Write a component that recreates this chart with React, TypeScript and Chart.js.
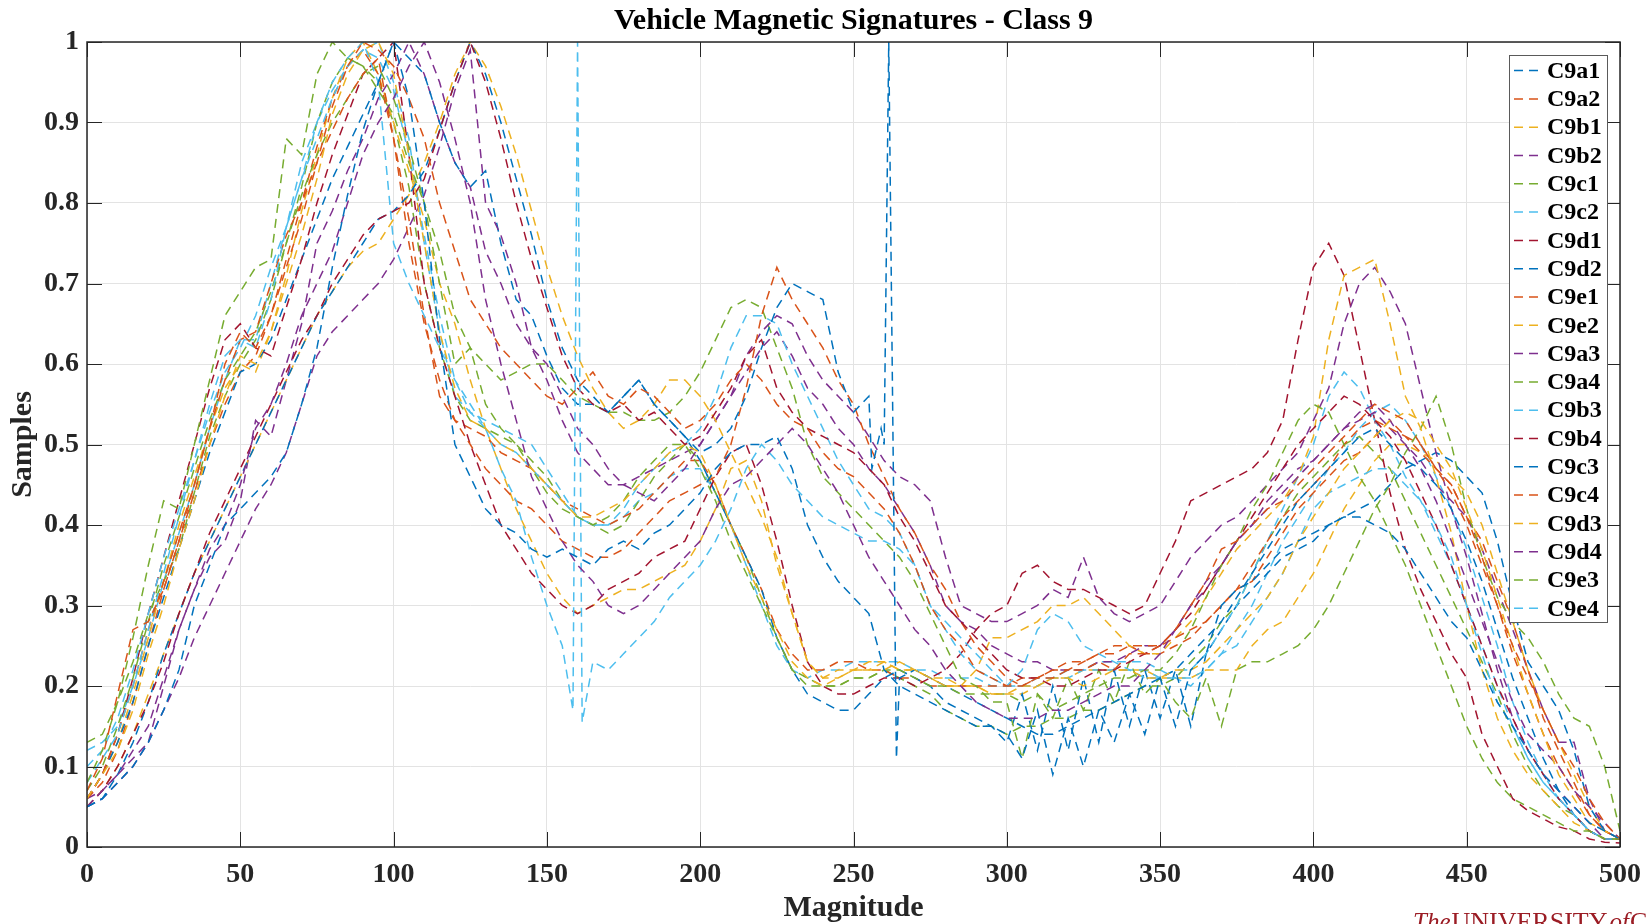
import { useEffect, useRef } from 'react';
import { Chart, registerables } from 'chart.js';

Chart.register(...registerables);

const magnitude = [
  0, 5, 10, 15, 20, 25, 30, 35, 40, 45,
  50, 55, 60, 65, 70, 75, 80, 85, 90, 95,
  100, 105, 110, 115, 120, 125, 130, 135, 140, 145,
  150, 155, 160, 165, 170, 175, 180, 185, 190, 195,
  200, 205, 210, 215, 220, 225, 230, 235, 240, 245,
  250, 255, 260, 265, 270, 275, 280, 285, 290, 295,
  300, 305, 310, 315, 320, 325, 330, 335, 340, 345,
  350, 355, 360, 365, 370, 375, 380, 385, 390, 395,
  400, 405, 410, 415, 420, 425, 430, 435, 440, 445,
  450, 455, 460, 465, 470, 475, 480, 485, 490, 495,
  500,
];

const seriesNames = [
  'C9a1', 'C9a2', 'C9b1', 'C9b2', 'C9c1', 'C9c2', 'C9d1', 'C9d2', 'C9e1', 'C9e2',
  'C9a3', 'C9a4', 'C9b3', 'C9b4', 'C9c3', 'C9c4', 'C9d3', 'C9d4', 'C9e3', 'C9e4',
];

const seriesColors = [
  '#0072BD', '#D95319', '#EDB120', '#7E2F8E', '#77AC30', '#4DBEEE', '#A2142F',
  '#0072BD', '#D95319', '#EDB120', '#7E2F8E', '#77AC30', '#4DBEEE', '#A2142F',
  '#0072BD', '#D95319', '#EDB120', '#7E2F8E', '#77AC30', '#4DBEEE',
];

const C9a1 = [
  0.05, 0.06, 0.08, 0.10, 0.13, 0.17, 0.22, 0.30, 0.35, 0.40,
  0.42, 0.44, 0.46, 0.49, 0.55, 0.62, 0.72, 0.81, 0.89, 0.95,
  1.00, 0.93, 0.80, 0.63, 0.50, 0.46, 0.42, 0.40, 0.39, 0.37,
  0.36, 0.37, 0.36, 0.35, 0.37, 0.38, 0.37, 0.39, 0.40, 0.42,
  0.44, 0.47, 0.49, 0.50, 0.50, 0.51, 0.47, 0.40, 0.36, 0.33,
  0.31, 0.29, 0.22, 0.20, 0.19, 0.18, 0.17, 0.16, 0.15, 0.15,
  0.14, 0.11, 0.17, 0.09, 0.16, 0.10, 0.17, 0.13, 0.19, 0.14,
  0.21, 0.15, 0.22, 0.24, 0.30, 0.32, 0.33, 0.35, 0.37, 0.38,
  0.39, 0.40, 0.41, 0.41, 0.40, 0.39, 0.37, 0.34, 0.31, 0.28,
  0.26, 0.22, 0.18, 0.15, 0.12, 0.09, 0.07, 0.05, 0.03, 0.02,
  0.01,
];
const C9a2 = [
  0.07, 0.11, 0.19, 0.27, 0.28, 0.32, 0.38, 0.45, 0.52, 0.60,
  0.64, 0.62, 0.66, 0.72, 0.78, 0.85, 0.92, 0.97, 1.00, 0.99,
  0.97, 0.93, 0.88, 0.80, 0.74, 0.68, 0.65, 0.62, 0.60, 0.58,
  0.56, 0.55, 0.57, 0.59, 0.56, 0.55, 0.57, 0.56, 0.54, 0.52,
  0.53, 0.55, 0.58, 0.60, 0.58, 0.55, 0.53, 0.52, 0.49, 0.47,
  0.46, 0.44, 0.42, 0.39, 0.35, 0.30, 0.27, 0.25, 0.22, 0.21,
  0.20, 0.20, 0.21, 0.21, 0.22, 0.22, 0.23, 0.22, 0.24, 0.24,
  0.25, 0.27, 0.30, 0.33, 0.37, 0.38, 0.40, 0.42, 0.43, 0.45,
  0.47, 0.49, 0.51, 0.53, 0.55, 0.54, 0.53, 0.50, 0.47, 0.44,
  0.40, 0.35, 0.30, 0.25, 0.21, 0.17, 0.13, 0.10, 0.06, 0.03,
  0.01,
];
const C9b1 = [
  0.06, 0.09, 0.12, 0.17, 0.24, 0.30, 0.37, 0.43, 0.50, 0.56,
  0.61, 0.60, 0.64, 0.70, 0.76, 0.83, 0.91, 0.96, 0.99, 1.00,
  0.96, 0.86, 0.75, 0.64, 0.57, 0.53, 0.52, 0.50, 0.49, 0.47,
  0.45, 0.43, 0.41, 0.41, 0.42, 0.43, 0.45, 0.47, 0.49, 0.50,
  0.49, 0.45, 0.40, 0.35, 0.31, 0.27, 0.23, 0.21, 0.20, 0.21,
  0.22, 0.22, 0.22, 0.23, 0.22, 0.21, 0.20, 0.20, 0.20, 0.19,
  0.19, 0.20, 0.20, 0.21, 0.21, 0.20, 0.21, 0.22, 0.22, 0.21,
  0.21, 0.22, 0.22, 0.23, 0.25, 0.27, 0.29, 0.31, 0.34, 0.38,
  0.41, 0.44, 0.47, 0.49, 0.51, 0.53, 0.54, 0.53, 0.50, 0.47,
  0.42, 0.37, 0.31, 0.25, 0.19, 0.14, 0.09, 0.06, 0.03, 0.02,
  0.01,
];
const C9b2 = [
  0.05, 0.07, 0.09, 0.11, 0.13, 0.20, 0.27, 0.32, 0.37, 0.40,
  0.45, 0.52, 0.55, 0.60, 0.66, 0.70, 0.74, 0.80, 0.86, 0.90,
  0.93, 0.97, 1.00, 0.95, 0.88, 0.80, 0.68, 0.60, 0.53, 0.46,
  0.42, 0.38, 0.35, 0.33, 0.30, 0.29, 0.30, 0.32, 0.34, 0.36,
  0.38, 0.42, 0.45, 0.46, 0.48, 0.50, 0.52, 0.50, 0.47, 0.44,
  0.40, 0.36, 0.33, 0.30, 0.27, 0.25, 0.22, 0.20, 0.18, 0.17,
  0.16, 0.16, 0.16, 0.17, 0.17, 0.18, 0.19, 0.20, 0.20, 0.22,
  0.24, 0.27, 0.30, 0.33, 0.35, 0.38, 0.40, 0.42, 0.44, 0.46,
  0.48, 0.50, 0.52, 0.54, 0.55, 0.53, 0.50, 0.47, 0.43, 0.38,
  0.33, 0.28, 0.23, 0.18, 0.14, 0.12, 0.10, 0.07, 0.05, 0.03,
  0.01,
];
const C9c1 = [
  0.08, 0.12, 0.18, 0.26, 0.35, 0.43, 0.42, 0.50, 0.58, 0.66,
  0.69, 0.72, 0.73, 0.88, 0.86, 0.96, 1.00, 0.98, 0.97, 0.94,
  0.91, 0.85, 0.80, 0.70, 0.60, 0.62, 0.55, 0.52, 0.50, 0.47,
  0.44, 0.42, 0.41, 0.40, 0.41, 0.43, 0.46, 0.48, 0.50, 0.50,
  0.47, 0.43, 0.38, 0.34, 0.30, 0.26, 0.22, 0.21, 0.20, 0.20,
  0.21, 0.21, 0.22, 0.22, 0.21, 0.20, 0.20, 0.19, 0.19, 0.19,
  0.19, 0.18, 0.19, 0.17, 0.18, 0.19, 0.20, 0.21, 0.21, 0.22,
  0.22, 0.24, 0.27, 0.31, 0.35, 0.38, 0.42, 0.45, 0.49, 0.53,
  0.55, 0.54, 0.50, 0.46, 0.43, 0.39, 0.35, 0.30, 0.25, 0.20,
  0.15, 0.11, 0.08, 0.06, 0.05, 0.04, 0.03, 0.02, 0.02, 0.01,
  0.01,
];
const C9c2 = [
  0.08, 0.11, 0.14, 0.20, 0.27, 0.34, 0.41, 0.48, 0.55, 0.61,
  0.63, 0.62, 0.68, 0.77, 0.83, 0.90, 0.95, 0.98, 1.00, 0.95,
  0.75, 0.70, 0.66, 0.62, 0.58, 0.55, 0.52, 0.47, 0.43, 0.36,
  0.30, 0.25, 1.00, 0.23, 0.22, 0.24, 0.26, 0.28, 0.31, 0.33,
  0.35, 0.38, 0.42, 0.47, 0.50, 0.48, 0.45, 0.43, 0.41, 0.40,
  0.39, 0.38, 0.38, 0.37, 0.35, 0.30, 0.28, 0.26, 0.24, 0.22,
  0.20, 0.22, 0.27, 0.29, 0.28, 0.25, 0.24, 0.23, 0.22, 0.22,
  0.21, 0.21, 0.21, 0.22, 0.24, 0.25, 0.28, 0.31, 0.34, 0.38,
  0.42, 0.44, 0.45, 0.46, 0.47, 0.47, 0.45, 0.43, 0.40, 0.36,
  0.30, 0.24, 0.18, 0.15, 0.11, 0.08, 0.06, 0.04, 0.02, 0.01,
  0.01,
];
const C9d1 = [
  0.05, 0.07, 0.10, 0.14, 0.18, 0.23, 0.29, 0.34, 0.39, 0.43,
  0.47, 0.51, 0.55, 0.59, 0.63, 0.66, 0.70, 0.73, 0.76, 0.78,
  0.79, 0.80, 0.83, 0.89, 0.95, 1.00, 0.95, 0.88, 0.80, 0.73,
  0.67, 0.61, 0.57, 0.55, 0.54, 0.55, 0.53, 0.54, 0.52, 0.50,
  0.51, 0.54, 0.57, 0.61, 0.63, 0.57, 0.54, 0.52, 0.51, 0.50,
  0.49, 0.47, 0.45, 0.41, 0.38, 0.34, 0.30, 0.28, 0.26, 0.24,
  0.22, 0.21, 0.21, 0.20, 0.20, 0.21, 0.22, 0.22, 0.23, 0.24,
  0.25, 0.27, 0.29, 0.32, 0.35, 0.38, 0.41, 0.44, 0.47, 0.50,
  0.52, 0.54, 0.56, 0.55, 0.53, 0.51, 0.48, 0.44, 0.40, 0.35,
  0.30, 0.25, 0.20, 0.16, 0.12, 0.09, 0.06, 0.04, 0.02, 0.01,
  0.01,
];
const C9d2 = [
  0.05, 0.06, 0.09, 0.13, 0.18, 0.24, 0.29, 0.34, 0.38, 0.42,
  0.46, 0.50, 0.54, 0.58, 0.62, 0.66, 0.69, 0.72, 0.75, 0.78,
  0.79, 0.81, 0.84, 0.89, 0.95, 1.00, 0.96, 0.90, 0.83, 0.76,
  0.68, 0.62, 0.58, 0.56, 0.54, 0.56, 0.58, 0.55, 0.53, 0.51,
  0.49, 0.50, 0.52, 0.56, 0.62, 0.67, 0.70, 0.69, 0.68, 0.59,
  0.54, 0.56, 0.50, 0.21, 0.22, 0.21, 0.20, 0.19, 0.18, 0.17,
  0.16, 0.15, 0.14, 0.14, 0.15, 0.16, 0.17, 0.18, 0.19, 0.20,
  0.21, 0.22, 0.24, 0.26, 0.28, 0.31, 0.34, 0.37, 0.40, 0.43,
  0.45, 0.47, 0.49, 0.51, 0.52, 0.50, 0.48, 0.47, 0.45, 0.42,
  0.38, 0.33, 0.27, 0.21, 0.16, 0.11, 0.07, 0.04, 0.02, 0.01,
  0.01,
];
const C9e1 = [
  0.06, 0.09, 0.14, 0.20, 0.27, 0.33, 0.39, 0.45, 0.52, 0.58,
  0.63, 0.64, 0.70, 0.76, 0.80, 0.85, 0.89, 0.93, 0.96, 0.98,
  0.88, 0.75, 0.65, 0.58, 0.53, 0.50, 0.47, 0.45, 0.43, 0.42,
  0.40, 0.38, 0.37, 0.36, 0.36, 0.37, 0.39, 0.41, 0.43, 0.44,
  0.45, 0.46, 0.50, 0.57, 0.66, 0.72, 0.68, 0.65, 0.62, 0.58,
  0.55, 0.50, 0.46, 0.42, 0.39, 0.35, 0.32, 0.28, 0.25, 0.23,
  0.21, 0.20, 0.21, 0.22, 0.22, 0.23, 0.24, 0.24, 0.25, 0.25,
  0.25, 0.26, 0.27, 0.28, 0.30, 0.32, 0.35, 0.38, 0.41, 0.43,
  0.45, 0.47, 0.50, 0.52, 0.53, 0.52, 0.51, 0.49, 0.47, 0.45,
  0.41, 0.36, 0.30, 0.24, 0.19, 0.14, 0.10, 0.07, 0.04, 0.02,
  0.01,
];
const C9e2 = [
  0.05, 0.07, 0.10, 0.14, 0.19, 0.24, 0.29, 0.34, 0.38, 0.42,
  0.46, 0.50, 0.54, 0.58, 0.62, 0.66, 0.69, 0.72, 0.74, 0.75,
  0.78, 0.81, 0.85, 0.90, 0.96, 1.00, 0.97, 0.92, 0.86, 0.79,
  0.72, 0.66, 0.61, 0.57, 0.54, 0.52, 0.53, 0.55, 0.58, 0.58,
  0.56, 0.53, 0.49, 0.45, 0.41, 0.36, 0.29, 0.23, 0.21, 0.21,
  0.22, 0.22, 0.23, 0.22, 0.22, 0.21, 0.20, 0.20, 0.22, 0.26,
  0.26, 0.27, 0.28, 0.30, 0.30, 0.31, 0.29, 0.27, 0.25, 0.24,
  0.24, 0.26, 0.28, 0.31, 0.34, 0.37, 0.39, 0.41, 0.43, 0.46,
  0.51, 0.63, 0.71, 0.72, 0.73, 0.65, 0.56, 0.52, 0.46, 0.39,
  0.30, 0.22, 0.16, 0.12, 0.09, 0.07, 0.05, 0.03, 0.02, 0.01,
  0.01,
];
const C9a3 = [
  0.05, 0.06, 0.08, 0.10, 0.13, 0.17, 0.21, 0.26, 0.30, 0.34,
  0.38, 0.42, 0.45, 0.49, 0.55, 0.61, 0.64, 0.66, 0.68, 0.70,
  0.73, 0.77, 0.81, 0.87, 0.94, 0.99, 0.80, 0.76, 0.70, 0.62,
  0.58, 0.53, 0.49, 0.47, 0.45, 0.45, 0.46, 0.47, 0.48, 0.49,
  0.50, 0.53, 0.56, 0.61, 0.64, 0.66, 0.65, 0.61, 0.58, 0.56,
  0.54, 0.51, 0.48, 0.46, 0.45, 0.43, 0.36, 0.30, 0.29, 0.28,
  0.28, 0.29, 0.30, 0.32, 0.31, 0.36, 0.31, 0.29, 0.28, 0.29,
  0.30, 0.33, 0.36, 0.38, 0.40, 0.41, 0.43, 0.45, 0.47, 0.49,
  0.53, 0.57, 0.65, 0.70, 0.72, 0.69, 0.65, 0.57, 0.49, 0.42,
  0.36, 0.29, 0.22, 0.16, 0.12, 0.09, 0.07, 0.05, 0.03, 0.01,
  0.01,
];
const C9a4 = [
  0.07, 0.10, 0.15, 0.21, 0.28, 0.35, 0.41, 0.47, 0.53, 0.58,
  0.61, 0.64, 0.69, 0.75, 0.81, 0.86, 0.90, 0.93, 0.96, 0.97,
  0.93, 0.87, 0.80, 0.74, 0.66, 0.62, 0.60, 0.58, 0.59, 0.60,
  0.60, 0.58, 0.56, 0.55, 0.54, 0.54, 0.53, 0.53, 0.54, 0.56,
  0.59, 0.63, 0.67, 0.68, 0.67, 0.62, 0.57, 0.50, 0.46, 0.44,
  0.42, 0.40, 0.38, 0.36, 0.33, 0.29, 0.25, 0.21, 0.20, 0.18,
  0.18, 0.11, 0.19, 0.16, 0.21, 0.17, 0.22, 0.18, 0.23, 0.19,
  0.21, 0.18, 0.16, 0.21, 0.15, 0.22, 0.23, 0.23, 0.24, 0.25,
  0.27, 0.30, 0.34, 0.38, 0.42, 0.45, 0.49, 0.52, 0.56, 0.50,
  0.42, 0.36, 0.31, 0.28, 0.26, 0.23, 0.19, 0.16, 0.15, 0.10,
  0.02,
];
const C9b3 = [
  0.10, 0.12, 0.16, 0.22, 0.29, 0.36, 0.42, 0.48, 0.54, 0.59,
  0.62, 0.66, 0.72, 0.77, 0.83, 0.88, 0.93, 0.97, 0.99, 0.98,
  0.94, 0.86, 0.76, 0.66, 0.58, 0.54, 0.52, 0.50, 0.49, 0.47,
  0.45, 0.43, 0.41, 0.40, 0.40, 0.42, 0.45, 0.47, 0.49, 0.50,
  0.52, 0.56, 0.62, 0.66, 0.66, 0.65, 0.60, 0.56, 0.52, 0.48,
  0.45, 0.42, 0.41, 0.39, 0.35, 0.30, 0.27, 0.24, 0.22, 0.21,
  0.20, 0.20, 0.20, 0.21, 0.21, 0.22, 0.22, 0.22, 0.22, 0.21,
  0.21, 0.22, 0.22, 0.24, 0.27, 0.30, 0.34, 0.38, 0.42, 0.46,
  0.50, 0.56, 0.59, 0.57, 0.53, 0.50, 0.46, 0.43, 0.39, 0.35,
  0.30, 0.25, 0.20, 0.15, 0.11, 0.08, 0.06, 0.04, 0.02, 0.01,
  0.01,
];
const C9b4 = [
  0.06, 0.09, 0.14, 0.21, 0.29, 0.36, 0.43, 0.50, 0.57, 0.63,
  0.65, 0.62, 0.61, 0.67, 0.73, 0.80, 0.86, 0.91, 0.96, 0.98,
  1.00, 0.86, 0.70, 0.62, 0.56, 0.50, 0.45, 0.40, 0.37, 0.34,
  0.32, 0.30, 0.29, 0.30, 0.32, 0.33, 0.34, 0.36, 0.37, 0.38,
  0.42, 0.46, 0.49, 0.50, 0.45, 0.38, 0.30, 0.23, 0.20, 0.19,
  0.19, 0.20, 0.21, 0.21, 0.20, 0.21, 0.22, 0.24, 0.27, 0.29,
  0.30, 0.34, 0.35, 0.33, 0.32, 0.32, 0.31, 0.30, 0.29, 0.30,
  0.34, 0.38, 0.43, 0.44, 0.45, 0.46, 0.47, 0.49, 0.53, 0.63,
  0.72, 0.75, 0.71, 0.62, 0.53, 0.44, 0.37, 0.32, 0.28, 0.24,
  0.21, 0.14, 0.10, 0.06, 0.045, 0.035, 0.025, 0.02, 0.01, 0.006,
  0.005,
];
const C9c3 = [
  0.06, 0.09, 0.13, 0.18, 0.25, 0.31, 0.37, 0.43, 0.49, 0.54,
  0.59, 0.60, 0.63, 0.68, 0.73, 0.78, 0.83, 0.87, 0.91, 0.95,
  1.00, 0.98, 0.96, 0.90, 0.85, 0.82, 0.84, 0.75, 0.68, 0.66,
  0.61, 0.57, 0.55, 0.55, 0.54, 0.56, 0.58, 0.55, 0.53, 0.51,
  0.48, 0.44, 0.40, 0.36, 0.32, 0.26, 0.22, 0.19, 0.18, 0.17,
  0.17, 0.19, 0.21, 0.22, 0.21, 0.20, 0.18, 0.17, 0.16, 0.15,
  0.13, 0.19, 0.12, 0.20, 0.12, 0.21, 0.13, 0.22, 0.15, 0.22,
  0.16, 0.22, 0.15, 0.24, 0.27, 0.30, 0.32, 0.34, 0.36, 0.37,
  0.38, 0.40, 0.41, 0.42, 0.43, 0.45, 0.47, 0.48, 0.49, 0.48,
  0.46, 0.44, 0.38, 0.30, 0.23, 0.20, 0.17, 0.12, 0.05, 0.02,
  0.01,
];
const C9c4 = [
  0.06, 0.08, 0.12, 0.18, 0.25, 0.32, 0.38, 0.44, 0.50, 0.55,
  0.59, 0.61, 0.66, 0.73, 0.80, 0.87, 0.93, 0.97, 0.99, 0.96,
  0.88, 0.78, 0.66, 0.56, 0.53, 0.52, 0.51, 0.49, 0.48, 0.47,
  0.45, 0.43, 0.42, 0.41, 0.40, 0.41, 0.42, 0.44, 0.46, 0.48,
  0.48, 0.45, 0.40, 0.36, 0.32, 0.27, 0.24, 0.22, 0.22, 0.23,
  0.23, 0.22, 0.22, 0.21, 0.21, 0.20, 0.20, 0.20, 0.20, 0.20,
  0.20, 0.21, 0.21, 0.22, 0.23, 0.23, 0.24, 0.25, 0.25, 0.24,
  0.24, 0.25, 0.26, 0.28, 0.30, 0.32, 0.33, 0.36, 0.39, 0.42,
  0.44, 0.46, 0.48, 0.49, 0.51, 0.53, 0.51, 0.50, 0.47, 0.45,
  0.41, 0.38, 0.33, 0.28, 0.22, 0.16, 0.12, 0.08, 0.04, 0.02,
  0.01,
];
const C9d3 = [
  0.06, 0.09, 0.13, 0.19, 0.26, 0.33, 0.40, 0.46, 0.52, 0.57,
  0.60, 0.59, 0.64, 0.71, 0.79, 0.86, 0.93, 0.98, 1.00, 0.96,
  0.90, 0.84, 0.78, 0.70, 0.65, 0.58, 0.52, 0.47, 0.42, 0.38,
  0.34, 0.31, 0.29, 0.30, 0.31, 0.32, 0.32, 0.33, 0.34, 0.35,
  0.38, 0.42, 0.47, 0.48, 0.43, 0.35, 0.29, 0.23, 0.21, 0.22,
  0.22, 0.23, 0.23, 0.22, 0.22, 0.21, 0.21, 0.20, 0.20, 0.19,
  0.19, 0.19, 0.20, 0.21, 0.21, 0.22, 0.22, 0.22, 0.22, 0.22,
  0.21, 0.21, 0.21, 0.22, 0.22, 0.22, 0.25, 0.27, 0.28, 0.31,
  0.34, 0.38, 0.42, 0.45, 0.48, 0.50, 0.50, 0.49, 0.48, 0.46,
  0.44, 0.40, 0.34, 0.28, 0.22, 0.17, 0.13, 0.09, 0.05, 0.02,
  0.01,
];
const C9d4 = [
  0.06, 0.07, 0.09, 0.12, 0.15, 0.21, 0.27, 0.32, 0.36, 0.38,
  0.43, 0.53, 0.51, 0.58, 0.65, 0.75, 0.79, 0.84, 0.88, 0.93,
  0.96, 1.00, 0.96, 0.90, 0.85, 0.82, 0.74, 0.70, 0.65, 0.62,
  0.60, 0.56, 0.52, 0.50, 0.47, 0.45, 0.44, 0.43, 0.45, 0.47,
  0.50, 0.53, 0.56, 0.59, 0.62, 0.64, 0.61, 0.57, 0.55, 0.52,
  0.50, 0.47, 0.45, 0.42, 0.39, 0.35, 0.30, 0.28, 0.27, 0.25,
  0.24, 0.23, 0.23, 0.22, 0.22, 0.22, 0.23, 0.23, 0.24, 0.25,
  0.25, 0.27, 0.30, 0.32, 0.35, 0.38, 0.40, 0.43, 0.45, 0.47,
  0.48, 0.50, 0.52, 0.53, 0.54, 0.52, 0.50, 0.48, 0.45, 0.43,
  0.41, 0.37, 0.32, 0.27, 0.22, 0.17, 0.13, 0.13, 0.06, 0.02,
  0.01,
];
const C9e3 = [
  0.13, 0.14, 0.18, 0.23, 0.29, 0.33, 0.37, 0.44, 0.51, 0.56,
  0.60, 0.63, 0.68, 0.75, 0.82, 0.90, 0.95, 0.98, 0.97, 0.95,
  0.90, 0.82, 0.70, 0.62, 0.56, 0.53, 0.52, 0.51, 0.50, 0.48,
  0.46, 0.43, 0.41, 0.40, 0.39, 0.40, 0.43, 0.46, 0.48, 0.50,
  0.48, 0.44, 0.40, 0.36, 0.31, 0.26, 0.22, 0.20, 0.20, 0.20,
  0.21, 0.21, 0.22, 0.21, 0.20, 0.19, 0.17, 0.16, 0.15, 0.15,
  0.14, 0.15, 0.15, 0.16, 0.16, 0.17, 0.17, 0.18, 0.19, 0.20,
  0.20, 0.21, 0.23, 0.25, 0.28, 0.30, 0.34, 0.38, 0.41, 0.44,
  0.46, 0.48, 0.50, 0.51, 0.49, 0.47, 0.43, 0.39, 0.35, 0.31,
  0.27, 0.23, 0.19, 0.14, 0.10, 0.07, 0.05, 0.04, 0.02, 0.01,
  0.01,
];
const C9e4 = [
  0.12, 0.13, 0.15, 0.20, 0.26, 0.33, 0.39, 0.45, 0.52, 0.58,
  0.63, 0.63, 0.70, 0.77, 0.85, 0.90, 0.94, 0.97, 0.99, 1.00,
  0.95, 0.88, 0.75, 0.64, 0.56, 0.54, 0.53, 0.52, 0.51, 0.50,
  0.47, 0.44, 0.41, 0.40, 0.40, 0.41, 0.43, 0.44, 0.46, 0.47,
  0.47, 0.44, 0.40, 0.35, 0.30, 0.25, 0.22, 0.21, 0.22, 0.22,
  0.23, 0.23, 0.23, 0.23, 0.22, 0.22, 0.21, 0.21, 0.21, 0.20,
  0.20, 0.20, 0.21, 0.21, 0.22, 0.22, 0.23, 0.23, 0.23, 0.23,
  0.22, 0.21, 0.20, 0.22, 0.24, 0.27, 0.30, 0.34, 0.38, 0.41,
  0.44, 0.47, 0.49, 0.52, 0.54, 0.55, 0.53, 0.50, 0.46, 0.42,
  0.37, 0.31, 0.25, 0.18, 0.13, 0.09, 0.06, 0.04, 0.02, 0.01,
  0.01,
];

// Narrow spikes (extra samples between the 5-unit grid)
const spikeC9c2X = [158.5, 161.5];
const spikeC9c2Y = [0.17, 0.155];
const spikeC9d2X = [256, 259, 261.5, 264];
const spikeC9d2Y = [0.47, 0.52, 1.0, 0.11];

const xTickValues = [0, 50, 100, 150, 200, 250, 300, 350, 400, 450, 500];
const xTickLabels = ['0', '50', '100', '150', '200', '250', '300', '350', '400', '450', '500'];
const yTickValues = [0, 0.1, 0.2, 0.3, 0.4, 0.5, 0.6, 0.7, 0.8, 0.9, 1];
const yTickLabels = ['0', '0.1', '0.2', '0.3', '0.4', '0.5', '0.6', '0.7', '0.8', '0.9', '1'];

const seriesValues = [
  C9a1, C9a2, C9b1, C9b2, C9c1, C9c2, C9d1, C9d2, C9e1, C9e2,
  C9a3, C9a4, C9b3, C9b4, C9c3, C9c4, C9d3, C9d4, C9e3, C9e4,
];

const extraPoints: Record<string, { xs: number[]; ys: number[] }> = {
  C9c2: { xs: spikeC9c2X, ys: spikeC9c2Y },
  C9d2: { xs: spikeC9d2X, ys: spikeC9d2Y },
};

const TITLE = 'Vehicle Magnetic Signatures - Class 9';
const X_TITLE = 'Magnitude';
const Y_TITLE = 'Samples';
const SERIF = '"Liberation Serif", "Times New Roman", serif';
const AXIS_COLOR = '#262626';
const DASH = [9, 6];

function buildPoints(name: string, vals: number[]) {
  const pts = magnitude.map((x, i) => ({ x, y: vals[i] }));
  const extra = extraPoints[name];
  if (extra) {
    extra.xs.forEach((x, i) => pts.push({ x, y: extra.ys[i] }));
    pts.sort((a, b) => a.x - b.x);
  }
  return pts;
}

const overlayPlugin = {
  id: 'overlay',
  afterDraw(chart: any) {
    const ctx = chart.ctx as CanvasRenderingContext2D;
    const area = chart.chartArea;
    const xs = chart.scales.x;
    const ys = chart.scales.y;
    ctx.save();

    // inward tick marks on all four sides
    ctx.strokeStyle = AXIS_COLOR;
    ctx.lineWidth = 1;
    const tl = 15;
    ctx.beginPath();
    xTickValues.forEach((v) => {
      const px = Math.round(xs.getPixelForValue(v)) + 0.5;
      ctx.moveTo(px, area.bottom);
      ctx.lineTo(px, area.bottom - tl);
      ctx.moveTo(px, area.top);
      ctx.lineTo(px, area.top + tl);
    });
    yTickValues.forEach((v) => {
      const py = Math.round(ys.getPixelForValue(v)) + 0.5;
      ctx.moveTo(area.left, py);
      ctx.lineTo(area.left + tl, py);
      ctx.moveTo(area.right, py);
      ctx.lineTo(area.right - tl, py);
    });
    ctx.stroke();

    // box
    ctx.lineWidth = 1.5;
    ctx.strokeRect(area.left, area.top, area.right - area.left, area.bottom - area.top);

    // legend
    const lx = 1509;
    const ly = 55;
    const lw = 98;
    const lh = 567;
    ctx.fillStyle = '#ffffff';
    ctx.fillRect(lx, ly, lw, lh);
    ctx.lineWidth = 1;
    ctx.strokeStyle = '#5a5a5a';
    ctx.strokeRect(lx + 0.5, ly + 0.5, lw, lh);
    ctx.font = `bold 24px ${SERIF}`;
    ctx.textBaseline = 'middle';
    ctx.textAlign = 'left';
    chart.data.datasets.forEach((ds: any, i: number) => {
      const cy = 70.6 + i * 28.3;
      ctx.strokeStyle = ds.borderColor;
      ctx.lineWidth = 1.5;
      ctx.setLineDash(DASH);
      ctx.beginPath();
      ctx.moveTo(1514, cy);
      ctx.lineTo(1541, cy);
      ctx.stroke();
      ctx.setLineDash([]);
      ctx.fillStyle = '#000000';
      ctx.fillText(ds.label, 1547, cy + 1);
    });

    // title and axis titles
    ctx.fillStyle = '#000000';
    ctx.textAlign = 'center';
    ctx.textBaseline = 'middle';
    ctx.font = `bold 30px ${SERIF}`;
    const cx = (area.left + area.right) / 2;
    ctx.fillText(TITLE, cx, 21);
    ctx.fillStyle = AXIS_COLOR;
    ctx.fillText(X_TITLE, cx, 908);
    ctx.save();
    ctx.translate(23, (area.top + area.bottom) / 2);
    ctx.rotate(-Math.PI / 2);
    ctx.fillText(Y_TITLE, 0, 0);
    ctx.restore();

    // watermark (partially cut at the bottom edge)
    ctx.fillStyle = '#9b1c24';
    ctx.textAlign = 'left';
    ctx.textBaseline = 'alphabetic';
    let wx = 1413;
    const wy = 930;
    ctx.font = `italic 25px ${SERIF}`;
    ctx.fillText('The', wx, wy);
    wx += ctx.measureText('The').width + 1;
    ctx.font = `26px ${SERIF}`;
    ctx.fillText('UNIVERSITY', wx, wy);
    wx += ctx.measureText('UNIVERSITY').width + 2;
    ctx.font = `italic 25px ${SERIF}`;
    ctx.fillText('of', wx, wy);
    wx += ctx.measureText('of').width + 1;
    ctx.font = `26px ${SERIF}`;
    ctx.fillText('C', wx, wy);

    ctx.restore();
  },
};

export default function App() {
  const canvasRef = useRef<HTMLCanvasElement | null>(null);

  useEffect(() => {
    document.body.style.margin = '0';
    const canvas = canvasRef.current;
    if (!canvas) return;
    const datasets = seriesNames.map((name, i) => ({
      label: name,
      data: buildPoints(name, seriesValues[i]),
      borderColor: seriesColors[i],
      backgroundColor: seriesColors[i],
      borderWidth: 1.5,
      borderDash: DASH,
      pointRadius: 0,
      tension: 0,
      fill: false,
    }));

    const chart = new Chart(canvas, {
      type: 'line',
      data: { datasets },
      plugins: [overlayPlugin],
      options: {
        animation: false,
        responsive: false,
        maintainAspectRatio: false,
        devicePixelRatio: 1,
        layout: { padding: { top: 42, right: 32, left: 0, bottom: 0 } },
        plugins: {
          legend: { display: false },
          title: { display: false },
          tooltip: { enabled: false },
        },
        scales: {
          x: {
            type: 'linear',
            min: 0,
            max: 500,
            afterBuildTicks: (axis: any) => {
              axis.ticks = xTickValues.map((v) => ({ value: v }));
            },
            afterFit: (axis: any) => {
              axis.height = 77;
            },
            ticks: {
              autoSkip: false,
              maxRotation: 0,
              padding: 11,
              color: AXIS_COLOR,
              font: { family: SERIF, size: 28, weight: 'bold' },
              callback: (v: any) => {
                const idx = xTickValues.indexOf(Number(v));
                return idx >= 0 ? xTickLabels[idx] : '';
              },
            },
            grid: { color: '#e3e3e3', lineWidth: 1, drawTicks: false },
            border: { display: false },
          },
          y: {
            type: 'linear',
            min: 0,
            max: 1,
            afterBuildTicks: (axis: any) => {
              axis.ticks = yTickValues.map((v) => ({ value: v }));
            },
            afterFit: (axis: any) => {
              axis.width = 87;
            },
            ticks: {
              autoSkip: false,
              padding: 8,
              color: AXIS_COLOR,
              font: { family: SERIF, size: 28, weight: 'bold' },
              callback: (v: any) => {
                const idx = yTickValues.findIndex((t) => Math.abs(t - Number(v)) < 1e-9);
                return idx >= 0 ? yTickLabels[idx] : '';
              },
            },
            grid: { color: '#e3e3e3', lineWidth: 1, drawTicks: false },
            border: { display: false },
          },
        },
      } as any,
    });
    return () => chart.destroy();
  }, []);

  return (
    <div style={{ width: 1652, height: 924, background: '#ffffff' }}>
      <canvas ref={canvasRef} width={1652} height={924} style={{ display: 'block' }} />
    </div>
  );
}
